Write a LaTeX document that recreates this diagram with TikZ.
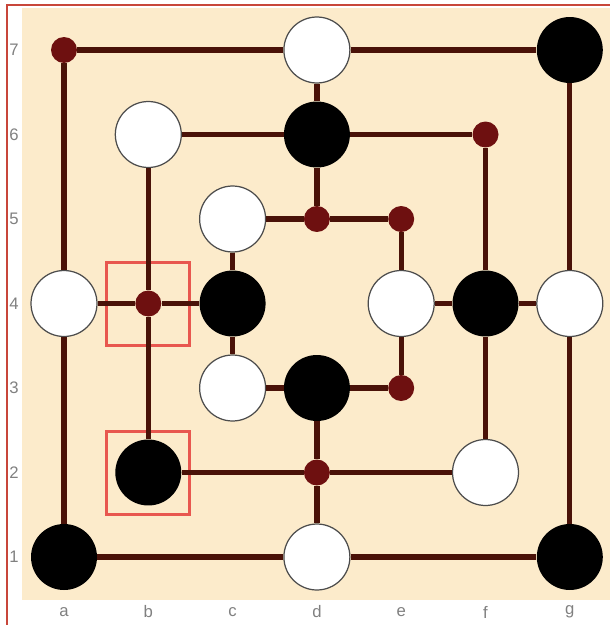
\documentclass[tikz,border=0pt]{standalone}
\usepackage{fontspec}
\setmainfont{Liberation Sans}
\usetikzlibrary{positioning}
\definecolor{boardbg}{HTML}{FCEBCB}
\definecolor{linebrown}{HTML}{4A1208}
\definecolor{dotred}{HTML}{6E1010}
\definecolor{sqred}{HTML}{E8574F}
\definecolor{rimred}{HTML}{C8463A}

\begin{document}
\begin{tikzpicture}[x=0.02cm,y=-0.02cm,
  spot/.style={circle,fill=dotred,minimum size=0.52cm,inner sep=0},
  wst/.style={circle,draw=gray!60!black,line width=0.7pt,fill=white,minimum size=1.32cm,inner sep=0},
  bst/.style={circle,fill=black,minimum size=1.32cm,inner sep=0},
  hilite/.style={rectangle,draw=sqred,line width=1.5pt,minimum size=1.66cm,inner sep=0},
  link/.style={draw=linebrown,line width=3pt},
  lbl/.style={font=\fontsize{9.5}{9.5}\selectfont,text=gray}]
\useasboundingbox (0,0) rectangle (610,625);
% board
\fill[boardbg] (22,8) rectangle (610,600);
\draw[rimred,line width=1.6pt] (7,625)--(7,5)--(610,5);
% highlighted points
\node[hilite] (hb4) at (148,304) {};
\node[hilite] (hb2) at (148,473) {};
% points and stones
\foreach \n/\s/\x/\y in {a7/spot/0/0,d7/wst/3/0,g7/bst/6/0,
  b6/wst/1/1,d6/bst/3/1,f6/spot/5/1,
  c5/wst/2/2,d5/spot/3/2,e5/spot/4/2,
  a4/wst/0/3,b4/spot/1/3,c4/bst/2/3,e4/wst/4/3,f4/bst/5/3,g4/wst/6/3,
  c3/wst/2/4,d3/bst/3/4,e3/spot/4/4,
  b2/bst/1/5,d2/spot/3/5,f2/wst/5/5,
  a1/bst/0/6,d1/wst/3/6,g1/bst/6/6}{
  \node[\s] (\n) at (64+\x*84.3,50+\y*84.5) {};
}
% lines
\foreach \u/\v in {a7/d7,d7/g7,a7/a4,a4/a1,a1/d1,d1/g1,g7/g4,g4/g1,
  b6/d6,d6/f6,b6/b4,b4/b2,f6/f4,f4/f2,b2/d2,d2/f2,
  a4/b4,b4/c4,e4/f4,f4/g4,d7/d6,d6/d5,d3/d2,d2/d1,
  c5/d5,d5/e5,c5/c4,c4/c3,c3/d3,d3/e3,e5/e4,e4/e3}
  \draw[link] (\u)--(\v);
% coordinates
\foreach \r [count=\i from 0] in {7,6,5,4,3,2,1}
  \node[lbl] (row\r) at (14,50+\i*84.5) {\r};
\foreach \c [count=\i from 0] in {a,b,c,d,e,f,g}
  \node[lbl] (col\c) at (64+\i*84.3,612) {\c};
\end{tikzpicture}
\end{document}
